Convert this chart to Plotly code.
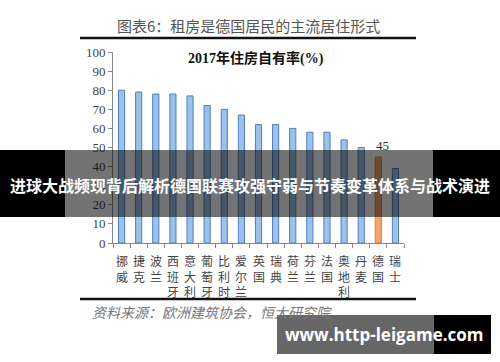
import plotly.graph_objects as go

countries = ["挪威", "捷克", "波兰", "西班牙", "意大利", "葡萄牙", "比利时", "爱尔兰", "英国",
             "瑞典", "荷兰", "芬兰", "法国", "奥地利", "丹麦", "德国", "瑞士"]
values = [80, 79, 78, 78, 77, 72, 70, 67, 62, 62, 60, 58, 58, 54, 50, 45, 39]
highlight = "德国"
y_ticks = [0, 10, 20, 30, 40, 50, 60, 70, 80, 90, 100]

tick_text = ["<br>".join(list(c)) for c in countries]
fill = ["#F5A66A" if c == highlight else "#9CC2EA" for c in countries]
edge = ["#E0803A" if c == highlight else "#4F7FC0" for c in countries]

fig = go.Figure()
fig.add_trace(go.Bar(
    x=countries, y=values, width=0.36,
    marker=dict(color=fill, line=dict(color=edge, width=1)),
    hoverinfo="x+y",
))
g_idx = countries.index(highlight)
fig.add_annotation(x=countries[g_idx], y=values[g_idx], text=str(values[g_idx]),
                   showarrow=False, yshift=12, xshift=4, xanchor="center",
                   font=dict(family="Liberation Serif", size=13, color="#333"))

# Category labels, written vertically below the axis
for c, t in zip(countries, tick_text):
    fig.add_annotation(x=c, y=0, yref="y", text=t, showarrow=False, xanchor="center",
                       yanchor="top", yshift=-7, align="center",
                       font=dict(family="Noto Sans CJK SC", size=12, color="#444"))

fig.update_layout(
    width=500, height=362,
    margin=dict(l=113, r=96, t=52, b=119),
    paper_bgcolor="white", plot_bgcolor="white",
    showlegend=False,
    bargap=0.6,
    xaxis=dict(
        type="category", tickmode="array", tickvals=countries, showticklabels=False,
        tickson="boundaries", ticks="outside", ticklen=4, tickcolor="#888",
        showline=True, linecolor="#888", linewidth=1, showgrid=False,
        fixedrange=True,
    ),
    yaxis=dict(
        range=[0, 100], tickvals=y_ticks, ticks="outside", ticklen=4, tickcolor="#888",
        showline=True, linecolor="#888", linewidth=1, showgrid=False, zeroline=False,
        tickfont=dict(family="Liberation Serif", size=13, color="#444"),
        fixedrange=True,
    ),
    font=dict(family="Noto Sans CJK SC"),
)


def px_x(v):
    return (v - 113) / 291


def px_y(v):
    return (243 - v) / 191


# Header text and rules
fig.add_annotation(xref="paper", yref="paper", x=px_x(248), y=px_y(25), xanchor="center",
                   text="图表6：租房是德国居民的主流居住形式", showarrow=False,
                   font=dict(family="Noto Sans CJK SC", size=15, color="#555"), yanchor="middle")
fig.add_annotation(xref="paper", yref="paper", x=px_x(256), y=px_y(58), xanchor="center",
                   text="<b>2017年住房自有率(%)</b>", showarrow=False,
                   font=dict(family="Liberation Serif, Noto Sans CJK SC", size=14, color="#111"),
                   yanchor="middle")
fig.add_annotation(xref="paper", yref="paper", x=px_x(90), y=px_y(312), xanchor="left",
                   text="<i>资料来源：欧洲建筑协会，恒大研究院</i>", showarrow=False,
                   font=dict(family="Noto Sans CJK SC", size=14, color="#777"), yanchor="middle")

fig.add_shape(type="line", xref="paper", yref="paper", x0=px_x(80), x1=px_x(416),
              y0=px_y(38), y1=px_y(38), line=dict(color="#111", width=2.5))
fig.add_shape(type="line", xref="paper", yref="paper", x0=px_x(80), x1=px_x(416),
              y0=px_y(299), y1=px_y(299), line=dict(color="#111", width=2.5))

# Overlay banner
fig.add_shape(type="rect", xref="paper", yref="paper", x0=px_x(0), x1=px_x(65),
              y0=px_y(217), y1=px_y(150), fillcolor="black", line=dict(width=0), layer="above")
fig.add_shape(type="rect", xref="paper", yref="paper", x0=px_x(433), x1=px_x(500),
              y0=px_y(217), y1=px_y(150), fillcolor="black", line=dict(width=0), layer="above")
fig.add_shape(type="rect", xref="paper", yref="paper", x0=px_x(65), x1=px_x(433),
              y0=px_y(217), y1=px_y(150), fillcolor="rgba(0,0,0,0.55)", line=dict(width=0), layer="above")
fig.add_annotation(xref="paper", yref="paper", x=px_x(250), y=px_y(185), xanchor="center",
                   text="<b>进球大战频现背后解析德国联赛攻强守弱与节奏变革体系与战术演进</b>",
                   showarrow=False, font=dict(family="Noto Sans CJK SC", size=16, color="white"),
                   yanchor="middle")

# Watermark
fig.add_shape(type="rect", xref="paper", yref="paper", x0=px_x(277), x1=px_x(434),
              y0=px_y(354), y1=px_y(315), fillcolor="rgba(0,0,0,0.6)", line=dict(width=0), layer="above")
fig.add_shape(type="rect", xref="paper", yref="paper", x0=px_x(434), x1=px_x(491),
              y0=px_y(354), y1=px_y(315), fillcolor="black", line=dict(width=0), layer="above")
fig.add_annotation(xref="paper", yref="paper", x=px_x(384), y=px_y(334), xanchor="center",
                   text="<b>www.http-leigame.com</b>", showarrow=False,
                   font=dict(family="Open Sans", size=17, color="white"), yanchor="middle")

fig.write_html("out.html")
